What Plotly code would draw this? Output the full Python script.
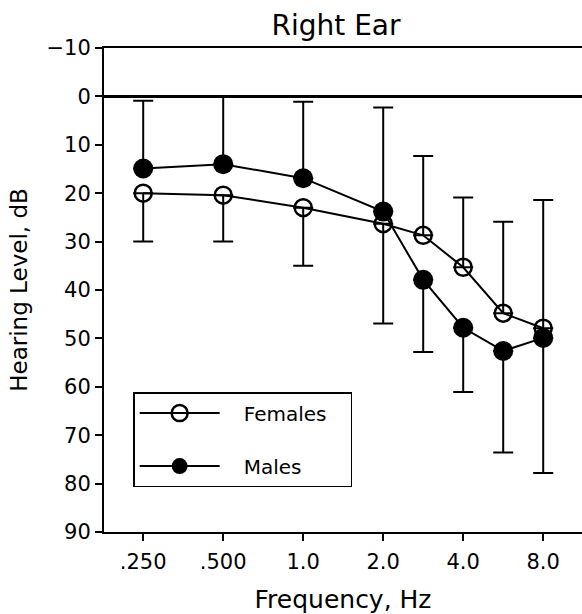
import plotly.graph_objects as go

# ---- data ----
freq_labels = [".250", ".500", "1.0", "2.0", "3.0", "4.0", "6.0", "8.0"]
octave_pos = [0, 1, 2, 3, 3.5, 4, 4.5, 5]          # position on octave-spaced axis
tick_pos = [0, 1, 2, 3, 4, 5]
tick_text = [".250", ".500", "1.0", "2.0", "4.0", "8.0"]
y_ticks = [-10, 0, 10, 20, 30, 40, 50, 60, 70, 80, 90]
y_tick_text = ["\u221210", "0", "10", "20", "30", "40", "50", "60", "70", "80", "90"]

females = [20.0, 20.4, 23.0, 26.3, 28.7, 35.3, 44.8, 47.9]
males = [14.9, 14.0, 16.9, 23.8, 37.9, 47.8, 52.6, 49.9]

# one-sided error bars (drawn away from the other curve)
fem_err_plus = [10.0, 9.6, 12.0, 20.6, 0, 0, 0, 0]
fem_err_minus = [0, 0, 0, 0, 16.4, 14.4, 18.9, 26.5]
male_err_plus = [0, 0, 0, 0, 14.9, 13.3, 21.0, 27.9]
male_err_minus = [14.0, 14.0, 15.8, 21.5, 0, 0, 0, 0]

FONT = "DejaVu Sans, Liberation Sans, Arial, sans-serif"
PAD = "\u00a0\u00a0\u00a0"

fig = go.Figure()
fig.add_trace(go.Scatter(
    x=octave_pos, y=females, name=PAD + "Females" + PAD, mode="lines+markers",
    legendgroup="f",
    line=dict(color="black", width=2),
    marker=dict(symbol="circle-open", size=17, color="black", line=dict(width=2.5)),
    error_y=dict(type="data", symmetric=False, array=fem_err_plus, arrayminus=fem_err_minus,
                 color="black", thickness=2, width=10),
))
fig.add_trace(go.Scatter(
    x=octave_pos, y=males, name=PAD + "Males", mode="lines+markers",
    legendgroup="m",
    line=dict(color="black", width=2),
    marker=dict(symbol="circle", size=20, color="black"),
    error_y=dict(type="data", symmetric=False, array=male_err_plus, arrayminus=male_err_minus,
                 color="black", thickness=2, width=10),
))

fig.update_layout(
    width=582, height=614,
    margin=dict(l=104, r=0, t=48, b=82, autoexpand=False),
    paper_bgcolor="white", plot_bgcolor="white",
    font=dict(family=FONT, color="black", size=21),
    title=dict(text="Right Ear", x=336 / 582, xanchor="center", xref="container",
               y=1 - 25 / 614, yanchor="middle", yref="container", font=dict(size=28)),
    showlegend=True,
    legend=dict(x=0.061, y=0.289, xanchor="left", yanchor="top",
                bordercolor="black", borderwidth=1.5, bgcolor="white",
                font=dict(size=20), tracegroupgap=24, itemwidth=80),
    xaxis=dict(range=[-0.49, 5.485], tickvals=tick_pos, ticktext=tick_text,
               showgrid=False, zeroline=False, showline=True, linecolor="black",
               linewidth=1.5, mirror=True, ticks="outside", ticklen=7, tickwidth=1.5,
               tickcolor="black", ticklabelstandoff=3, automargin=False,
               title=dict(text="Frequency, Hz", font=dict(size=25), standoff=20)),
    xaxis2=dict(range=[-0.49, 5.485], tickvals=tick_pos, overlaying="x", anchor="y",
                side="bottom", showticklabels=False, showgrid=False, zeroline=False,
                ticks="inside", ticklen=10, tickwidth=1.5, tickcolor="black",
                automargin=False),
    yaxis=dict(range=[90, -10], tickvals=y_ticks, ticktext=y_tick_text,
               showgrid=False, zeroline=True, zerolinecolor="black", zerolinewidth=2.5,
               showline=True, linecolor="black", linewidth=2,
               ticks="outside", ticklen=7, tickwidth=1.5, tickcolor="black",
               ticklabelstandoff=0, automargin=False,
               title=dict(text="Hearing Level, dB", font=dict(size=23), standoff=12)),
)

fig.write_html("out.html", config={"displayModeBar": False},
               post_script="document.body.style.margin='0';document.body.style.padding='0';")
